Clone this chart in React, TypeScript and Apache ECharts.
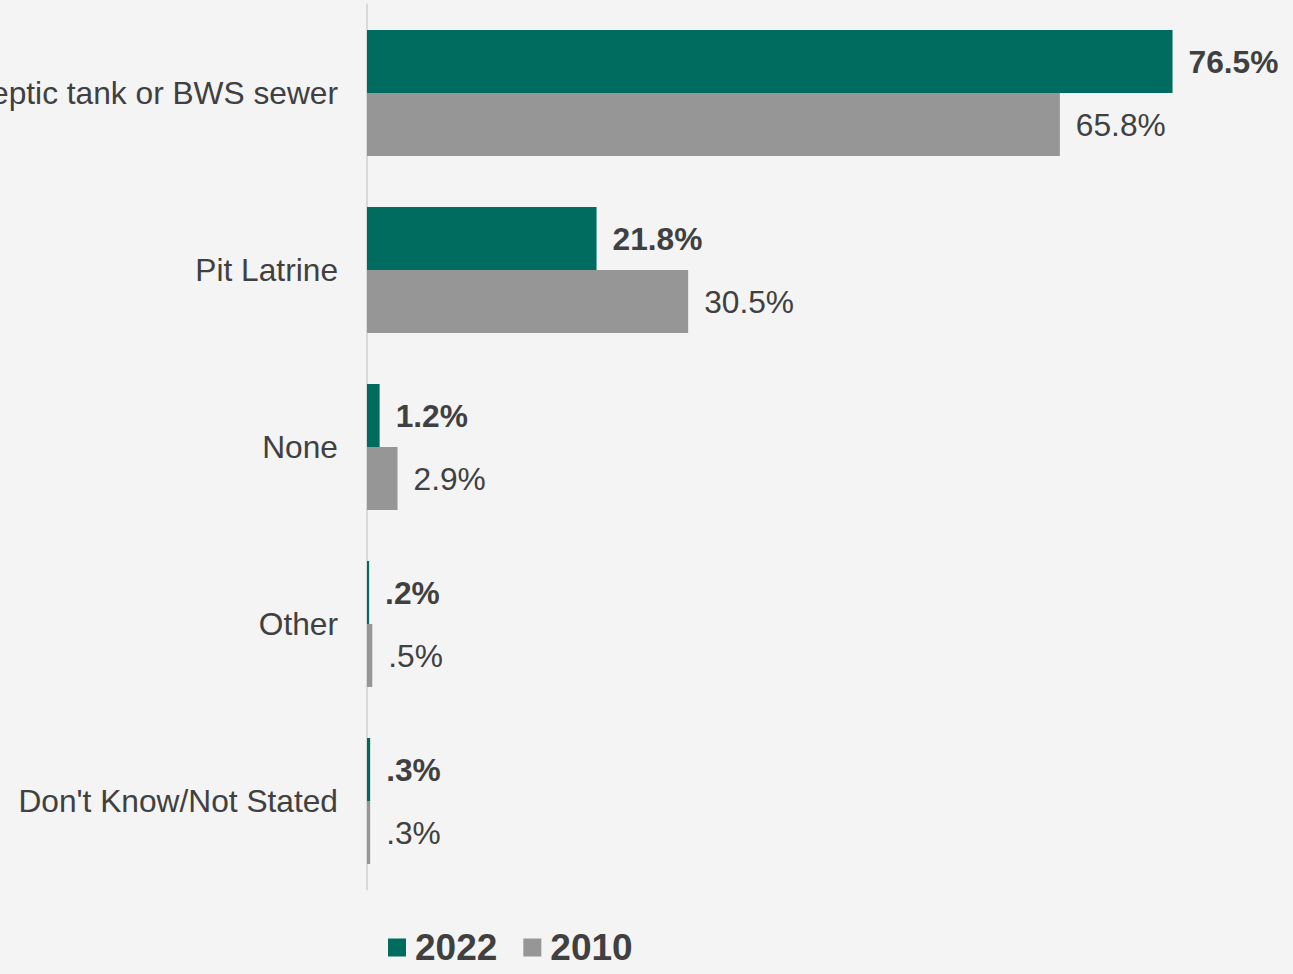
import React, { useEffect, useRef } from "react";
import * as echarts from "echarts";

const categories = [
  "Septic tank or BWS sewer",
  "Pit Latrine",
  "None",
  "Other",
  "Don't Know/Not Stated",
];
const values2022 = [76.5, 21.8, 1.2, 0.2, 0.3];
const values2010 = [65.8, 30.5, 2.9, 0.5, 0.3];
const seriesNames = ["2022", "2010"];

const fmt = (v: number) => v.toFixed(1).replace(/^0/, "") + "%";

export default function App() {
  const ref = useRef<HTMLDivElement>(null);
  useEffect(() => {
    if (!ref.current) return;
    const chart = echarts.init(ref.current, undefined, { renderer: "svg" });
    const font = "'Liberation Sans', Arial, sans-serif";
    chart.setOption({
      animation: false,
      backgroundColor: "#f4f4f4",
      textStyle: { fontFamily: font },
      grid: {
        left: 367,
        top: 4.5,
        height: 885,
        width: 842.4,
        containLabel: false,
        outerBoundsMode: "none",
      },
      xAxis: {
        type: "value",
        min: 0,
        max: 80,
        show: false,
      },
      yAxis: {
        type: "category",
        inverse: true,
        data: categories,
        axisLine: { show: true, lineStyle: { color: "#d9d9d9", width: 2 } },
        axisTick: { show: false },
        axisLabel: {
          margin: 29,
          fontSize: 31.7,
          color: "#404040",
          fontFamily: font,
        },
      },
      legend: {
        left: 388,
        top: 929,
        padding: 0,
        icon: "rect",
        itemWidth: 18,
        itemHeight: 18,
        itemGap: 26,
        textStyle: {
          fontSize: 37,
          fontWeight: "bold",
          color: "#404040",
          fontFamily: font,
          padding: [0, 0, 0, 4],
        },
        data: seriesNames,
      },
      series: [
        {
          name: seriesNames[0],
          type: "bar",
          data: values2022,
          barWidth: 63,
          barGap: "0%",
          itemStyle: { color: "#006B5F" },
          label: {
            show: true,
            position: "right",
            distance: 16,
            formatter: (p: any) => fmt(p.value),
            fontSize: 31.7,
            fontWeight: "bold",
            color: "#404040",
            fontFamily: font,
          },
        },
        {
          name: seriesNames[1],
          type: "bar",
          data: values2010,
          barWidth: 63,
          barGap: "0%",
          itemStyle: { color: "#969696" },
          label: {
            show: true,
            position: "right",
            distance: 16,
            formatter: (p: any) => fmt(p.value),
            fontSize: 31.7,
            color: "#404040",
            fontFamily: font,
          },
        },
      ],
    });
    return () => chart.dispose();
  }, []);
  return (
    <div
      ref={ref}
      style={{ position: "fixed", left: 0, top: 0, width: 1293, height: 974 }}
    />
  );
}
